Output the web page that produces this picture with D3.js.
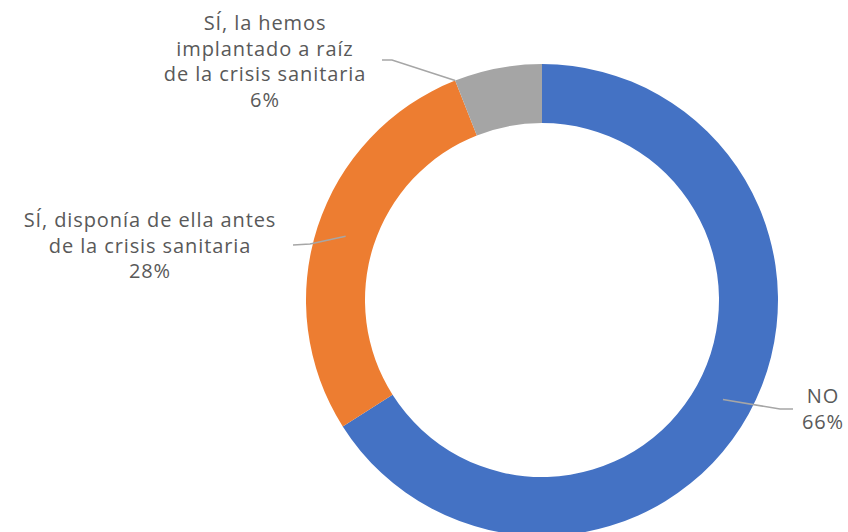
<!DOCTYPE html>
<html>
<head>
<meta charset="utf-8">
<script src="https://cdn.jsdelivr.net/npm/d3@7"></script>
<style>
  html, body { margin: 0; padding: 0; background: #fff; }
  svg { display: block; }
  .label { font-family: "Open Sans", sans-serif; font-size: 20px; letter-spacing: 0.9px; fill: #595959; }
</style>
</head>
<body>
<div id="chart"></div>
<script>
  const categories = [
    "NO",
    "SÍ, disponía de ella antes de la crisis sanitaria",
    "SÍ, la hemos implantado a raíz de la crisis sanitaria",
  ];
  const values = [66, 28, 6];
  const labelLines = [
    ["NO"],
    ["SÍ, disponía de ella antes", "de la crisis sanitaria"],
    ["SÍ, la hemos", "implantado a raíz", "de la crisis sanitaria"],
  ];
  const colors = ["#4472C4", "#ED7D31", "#A5A5A5"];

  const width = 848;
  const height = 532;
  const cx = 542;
  const cy = 300;
  const outer = 236;
  const inner = 177;

  // label anchor (center x, first baseline), leader elbow points, and where the leader meets the slice
  // (t: fraction along the slice angle, frac: fraction across the ring)
  const labelPos = [
    { x: 823, y: 403, line: [[793, 409], [780, 409]], t: 0.5, frac: 0.5 },
    { x: 150, y: 227, line: [[293, 245], [310, 244]], t: 0.5, frac: 0.5 },
    { x: 265, y: 30, line: [[382, 60], [392, 60]], t: 0, frac: 1.0 },
  ];

  const svg = d3
    .select("#chart")
    .append("svg")
    .attr("width", width)
    .attr("height", height);

  const pie = d3.pie().sort(null).value((d) => d.value);
  const arc = d3.arc().innerRadius(inner).outerRadius(outer);
  const data = categories.map((c, i) => ({ category: c, value: values[i], color: colors[i], lines: labelLines[i] }));
  const arcs = pie(data);

  const g = svg.append("g").attr("transform", `translate(${cx},${cy})`);

  g.selectAll("path")
    .data(arcs)
    .join("path")
    .attr("d", arc)
    .attr("fill", (d) => d.data.color);

  // leader lines
  arcs.forEach((d, i) => {
    const p = labelPos[i];
    const a = d.startAngle + (d.endAngle - d.startAngle) * p.t;
    const r = inner + (outer - inner) * p.frac;
    const tip = [cx + r * Math.sin(a), cy - r * Math.cos(a)];
    svg
      .append("polyline")
      .attr("points", [...p.line, tip].map((q) => q.join(",")).join(" "))
      .attr("fill", "none")
      .attr("stroke", "#A6A6A6")
      .attr("stroke-width", 1.6);
  });

  // labels
  arcs.forEach((d, i) => {
    const p = labelPos[i];
    const text = svg
      .append("text")
      .attr("class", "label")
      .attr("text-anchor", "middle")
      .attr("x", p.x)
      .attr("y", p.y);
    const lines = [...d.data.lines, `${d.data.value}%`];
    lines.forEach((line, j) => {
      text
        .append("tspan")
        .attr("x", p.x)
        .attr("dy", j === 0 ? 0 : 25.5)
        .text(line);
    });
  });
</script>
</body>
</html>
